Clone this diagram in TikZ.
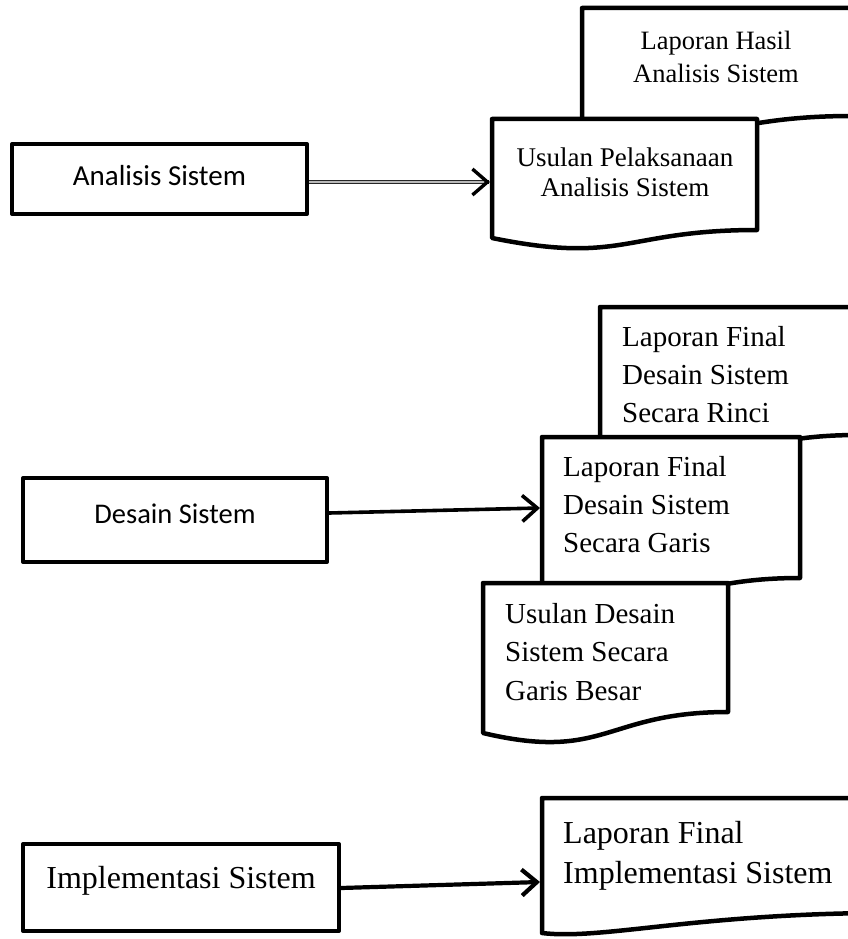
\documentclass[tikz,border=0pt]{standalone}
\usepackage{fontspec}
\setmainfont{Liberation Serif}
\newfontfamily\calibri{Carlito}
\usetikzlibrary{arrows.meta,calc}
\newcommand\docshape[6]{%
  \draw[docline] (#1,#2) -- (#3,#2) -- (#3,#4)
    .. controls ({(#1+#3)/2},#4) and ({(#1+#3)/2},#6) .. (#1,#5) -- cycle;}
\begin{document}
\begin{tikzpicture}[x=1pt,y=-1pt,
  procbox/.style={draw, line width=4pt, fill=white, inner sep=0pt, line join=round},
  docline/.style={draw, line width=4.5pt, fill=white, line join=round},
  doctext/.style={inner sep=0pt},
  tipstyle/.style={-{Straight Barb[length=15pt,width=26pt]}},
  conn/.style={line width=3.6pt, tipstyle},
  dblconn/.style={draw=black!85, double=gray!55, line width=1pt, double distance=1.6pt},
]
\useasboundingbox (0,0) rectangle (848,939);
\clip (0,0) rectangle (848,939);
\fill[white] (0,0) rectangle (848,939);

% ---------- top section ----------
\docshape{582}{8}{852}{116}{124}{151}
\node[doctext, align=center, font=\fontsize{26.5}{33}\selectfont] (t1) at (716,56.5) {Laporan Hasil\\Analisis Sistem};
\docshape{492}{119}{757}{230}{238}{265}
\node[doctext, align=center, font=\fontsize{27}{30}\selectfont] (t2) at (625,172) {Usulan Pelaksanaan\\Analisis Sistem};
\coordinate (d1in) at (490,182);

\node[procbox, minimum width=295, minimum height=70, text height=20pt, text depth=6.5pt,
  font=\calibri\fontsize{29}{35}\selectfont] (an) at (159.5,179) {Analisis Sistem};
\draw[dblconn] (an.east |- d1in) -- ($(d1in)+(-3,0)$);
\draw[line width=3.4pt, tipstyle] ($(d1in)+(-1,0)$) -- (d1in);

% ---------- middle section ----------
\docshape{600}{307}{858}{435}{450}{480}
\node[doctext, anchor=west, align=left, font=\fontsize{29}{38}\selectfont] (m1) at (622,375) {Laporan Final\\Desain Sistem\\Secara Rinci};
\docshape{542}{437}{800}{578}{594}{623}
\node[doctext, anchor=west, align=left, font=\fontsize{29}{38}\selectfont] (m2) at (563,505) {Laporan Final\\Desain Sistem\\Secara Garis};
\docshape{483}{583}{728}{712}{733}{762}
\node[doctext, anchor=west, align=left, font=\fontsize{29}{38.5}\selectfont] (m3) at (505,652) {Usulan Desain\\Sistem Secara\\Garis Besar};
\coordinate (d2in) at (540,508);

\node[procbox, minimum width=304, minimum height=84, text height=20pt, text depth=13pt,
  font=\calibri\fontsize{28.5}{34}\selectfont] (ds) at (175,520) {Desain Sistem};
\draw[conn] ($(ds.east)+(0,-7)$) -- (d2in);

% ---------- bottom section ----------
\draw[docline] (542,798) -- (870,798) -- (870,913)
  .. controls (690,915) and (600,940) .. (542,933) -- cycle;
\node[doctext, anchor=west, align=left, font=\fontsize{32}{40}\selectfont] (b1) at (563,856) {Laporan Final\\Implementasi Sistem};
\coordinate (d3in) at (540,882);

\node[procbox, minimum width=316, minimum height=87, text height=22pt, text depth=20pt,
  font=\fontsize{32}{38}\selectfont] (im) at (181,887.5) {Implementasi Sistem};
\draw[line width=4.2pt, tipstyle] ($(im.east)+(0,0.5)$) -- (d3in);
\end{tikzpicture}
\end{document}
